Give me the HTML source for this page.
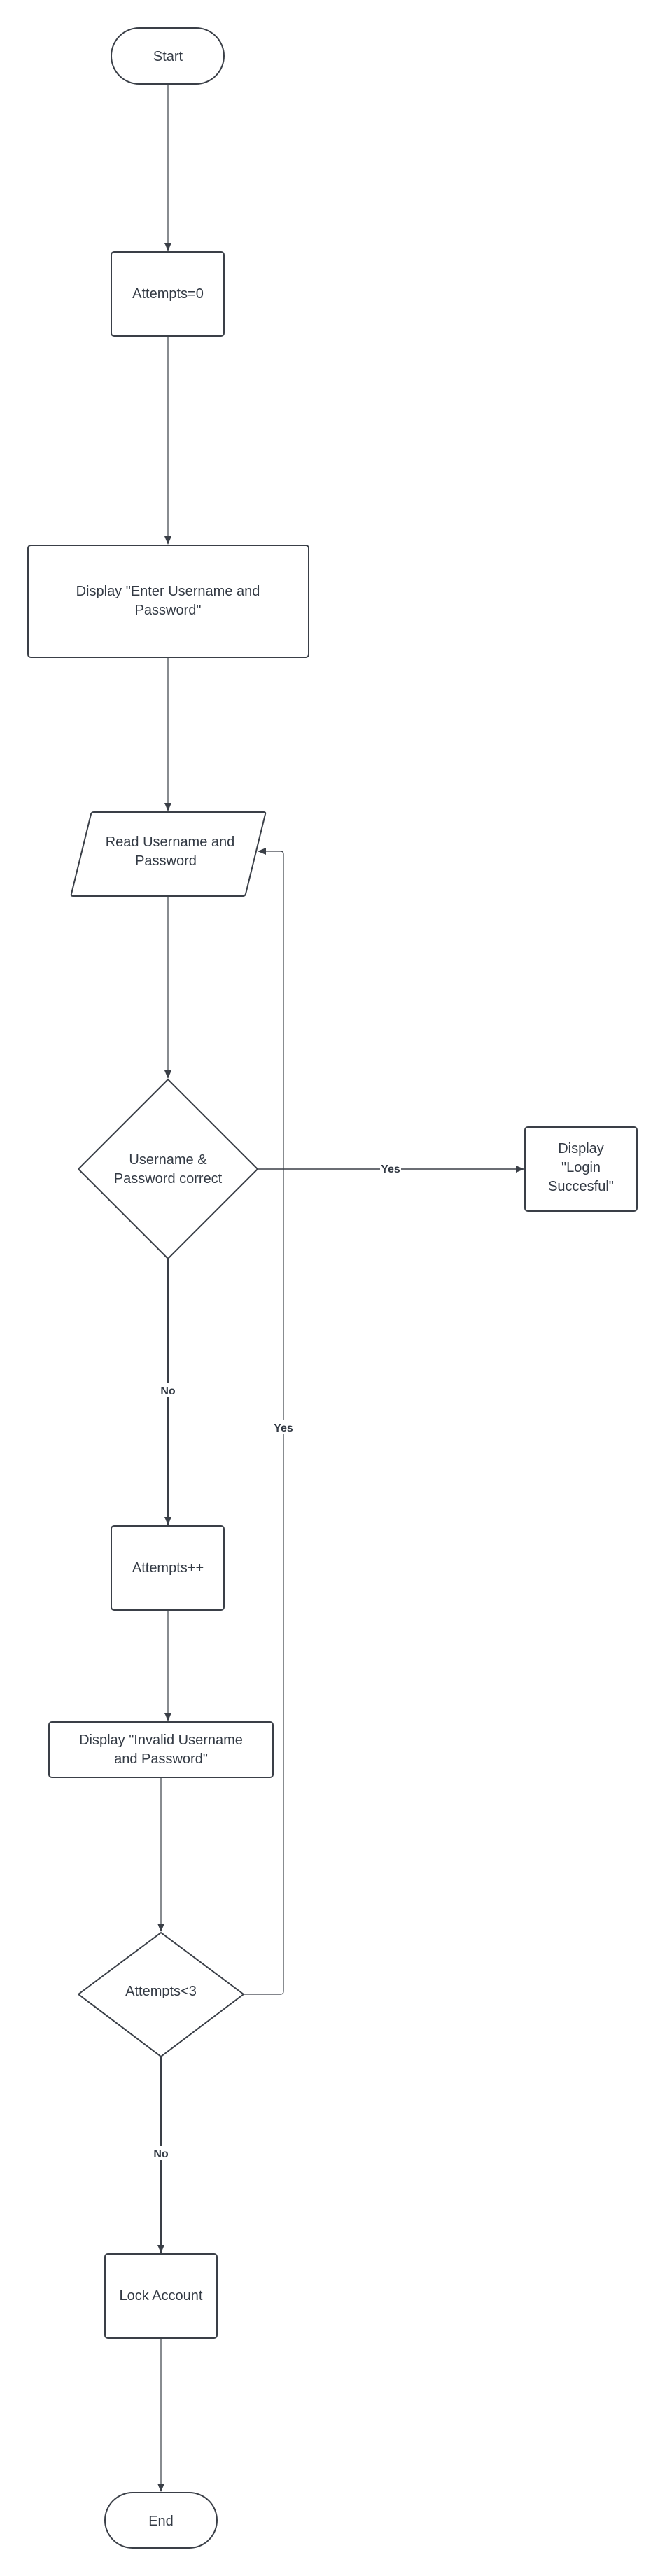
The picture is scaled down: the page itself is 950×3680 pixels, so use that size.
<!DOCTYPE html>
<html><head><meta charset="utf-8"><style>
html,body{margin:0;padding:0;background:#fff;}
svg{display:block;}
text{font-family:"Liberation Sans",sans-serif;fill:#333a44;}
.t{font-size:20px;text-anchor:middle;}
.l{font-size:16px;font-weight:bold;text-anchor:middle;}
</style></head><body>
<svg width="950" height="3680" viewBox="0 0 950 3680" xmlns="http://www.w3.org/2000/svg">
<defs>
<marker id="a" markerWidth="12" markerHeight="10" refX="11" refY="5" orient="auto" markerUnits="userSpaceOnUse">
<path d="M0,0 L12,5 L0,10 Z" fill="#3a3f47"/></marker>
</defs>
<g fill="none" stroke="#3a3f47">
<line x1="240" y1="120" x2="240" y2="358" stroke-width="1.2" marker-end="url(#a)"/>
<line x1="240" y1="480" x2="240" y2="777" stroke-width="1.2" marker-end="url(#a)"/>
<line x1="240" y1="939" x2="240" y2="1158" stroke-width="1.2" marker-end="url(#a)"/>
<line x1="240" y1="1280" x2="240" y2="1540" stroke-width="1.2" marker-end="url(#a)"/>
<line x1="368" y1="1670" x2="748" y2="1670" stroke-width="1.6" marker-end="url(#a)"/>
<line x1="240" y1="1798" x2="240" y2="2178" stroke-width="2.2" marker-end="url(#a)"/>
<line x1="240" y1="2300" x2="240" y2="2458" stroke-width="1.2" marker-end="url(#a)"/>
<line x1="230" y1="2539" x2="230" y2="2759" stroke-width="1.2" marker-end="url(#a)"/>
<path d="M348,2849 H401 Q405,2849 405,2845 V1220 Q405,1216 401,1216 H369" stroke-width="1.2" marker-end="url(#a)"/>
<line x1="230" y1="2938" x2="230" y2="3218" stroke-width="2.2" marker-end="url(#a)"/>
<line x1="230" y1="3340" x2="230" y2="3559" stroke-width="1.2" marker-end="url(#a)"/>
<g stroke-width="2" fill="#fff">
<rect x="159" y="40" width="161" height="80" rx="40"/>
<rect x="159" y="360" width="161" height="120" rx="4"/>
<rect x="40" y="779" width="401" height="160" rx="4"/>
<path d="M134,1160 H377 Q380,1160 379,1163 L351,1277 Q350,1280 347,1280 H104 Q101,1280 102,1277 L130,1163 Q131,1160 134,1160 Z"/>
<path d="M240,1542 L368,1670 L240,1798 L112,1670 Z" stroke-linejoin="round"/>
<rect x="750" y="1610" width="160" height="120" rx="4"/>
<rect x="159" y="2180" width="161" height="120" rx="4"/>
<rect x="70" y="2460" width="320" height="79" rx="4"/>
<path d="M230,2761 L348,2849 L230,2938 L112,2849 Z" stroke-linejoin="round"/>
<rect x="150" y="3220" width="160" height="120" rx="4"/>
<rect x="150" y="3561" width="160" height="79" rx="39.5"/>
</g>
</g>
<rect x="543" y="1662" width="30" height="14" fill="#fff"/>
<rect x="222" y="1976" width="36" height="20" fill="#fff"/>
<rect x="385" y="2029" width="40" height="20" fill="#fff"/>
<rect x="212" y="3066" width="36" height="20" fill="#fff"/>
<text class="t" x="240" y="87">Start</text>
<text class="t" x="240" y="426">Attempts=0</text>
<text class="t" x="240" y="851">Display "Enter Username and</text>
<text class="t" x="240" y="878">Password"</text>
<text class="t" x="243" y="1209">Read Username and</text>
<text class="t" x="237" y="1236">Password</text>
<text class="t" x="240" y="1663">Username &amp;</text>
<text class="t" x="240" y="1690">Password correct</text>
<text class="t" x="830" y="1647">Display</text>
<text class="t" x="830" y="1674">"Login</text>
<text class="t" x="830" y="1701">Succesful"</text>
<text class="t" x="240" y="2246">Attempts++</text>
<text class="t" x="230" y="2492">Display "Invalid Username</text>
<text class="t" x="230" y="2519">and Password"</text>
<text class="t" x="230" y="2851">Attempts&lt;3</text>
<text class="t" x="230" y="3286">Lock Account</text>
<text class="t" x="230" y="3608">End</text>
<text class="l" x="558" y="1675">Yes</text>
<text class="l" x="240" y="1992">No</text>
<text class="l" x="405" y="2045">Yes</text>
<text class="l" x="230" y="3082">No</text>
</svg>
</body></html>
